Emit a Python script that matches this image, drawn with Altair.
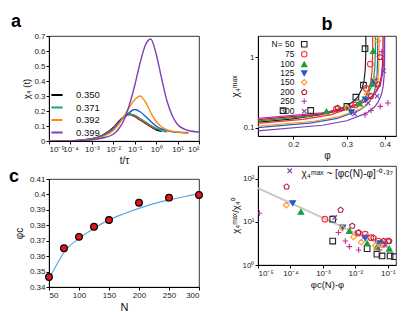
import altair as alt
import pandas as pd

FONT = "Liberation Sans"

# ---------------- Panel a : chi4(t) ----------------
t_grid = [1e-5, 1e-4, 1e-3, 0.00316, 0.01, 0.0178, 0.0316, 0.0562, 0.1, 0.178,
          0.316, 0.562, 1.0, 1.78, 3.16, 5.62, 10.0, 31.6, 100.0]
chi_350 = [0, 0.001, 0.015, 0.04, 0.09, 0.13, 0.163, 0.18, 0.165, 0.14, 0.118, 0.095, 0.075, 0.065]
chi_361 = [0, 0.001, 0.014, 0.038, 0.086, 0.125, 0.158, 0.175, 0.162, 0.14, 0.12, 0.097, 0.078]
chi_371 = [0, 0.001, 0.013, 0.035, 0.082, 0.12, 0.155, 0.178, 0.172, 0.15, 0.128, 0.105, 0.085, 0.07, 0.06]
chi_385 = [0, 0.001, 0.012, 0.032, 0.078, 0.12, 0.16, 0.19, 0.21, 0.195, 0.165, 0.13, 0.1, 0.08, 0.07, 0.062, 0.058, 0.055]
chi_392 = [0, 0.001, 0.01, 0.028, 0.07, 0.11, 0.165, 0.225, 0.275, 0.30, 0.26, 0.19, 0.13, 0.095, 0.075, 0.065, 0.06, 0.05]
chi_399 = [0, 0.001, 0.008, 0.02, 0.045, 0.08, 0.14, 0.24, 0.37, 0.52, 0.64, 0.68, 0.58, 0.42, 0.27, 0.17, 0.11, 0.07, 0.06]
a_names = ["0.350", "0.361", "0.371", "0.385", "0.392", "0.399"]
a_legend = ["0.350", "0.371", "0.392", "0.399"]
a_colors = ["#000000", "#e0302a", "#1fa27a", "#1f5bbf", "#ff8c1a", "#7e3fb8"]
a_series = [chi_350, chi_361, chi_371, chi_385, chi_392, chi_399]
a_xticks = [1e-5, 1e-4, 1e-3, 1e-2, 1e-1, 1.0, 10.0, 100.0]
a_yticks = [0, 0.1, 0.2, 0.3, 0.4, 0.5, 0.6, 0.7]

# ---------------- Panel b : chi4max vs phi ----------------
N_names = ["N= 50", "75", "100", "125", "150", "200", "250", "300"]
N_colors = ["#222222", "#ff2d2d", "#1f9e3a", "#1f5fc4", "#ff9a2e", "#b3203c", "#c42f9e", "#7a3fb4"]
N_fills = ["transparent", "transparent", "#1f9e3a", "#1f5fc4", "transparent", "transparent", "transparent", "transparent"]
PENT = "M0,-1L0.951,-0.309L0.588,0.809L-0.588,0.809L-0.951,-0.309Z"
PLUS = "M-1,0L1,0M0,-1L0,1"
XS = "M-0.8,-0.8L0.8,0.8M-0.8,0.8L0.8,-0.8"
N_shapes = ["square", "circle", "triangle-up", "triangle-down", "diamond", PENT, PLUS, XS]
fit_names = ["fit 50", "fit 75", "fit 100", "fit 125", "fit 150", "fit 200", "fit 250", "fit 300"]

# fitted curves (phi, chi) per N
bl_phi = {
    "N= 50": [0.153, 0.1965, 0.2465, 0.2965, 0.3165, 0.3265, 0.3365, 0.3415, 0.3445, 0.3460, 0.34647],
    "75":    [0.153, 0.215, 0.265, 0.315, 0.335, 0.345, 0.355, 0.360, 0.363, 0.3645, 0.36497],
    "100":   [0.153, 0.2225, 0.2725, 0.3225, 0.3425, 0.3525, 0.3625, 0.3675, 0.3705, 0.3720, 0.37247],
    "125":   [0.153, 0.229, 0.279, 0.329, 0.349, 0.359, 0.369, 0.374, 0.377, 0.3785, 0.37897],
    "150":   [0.153, 0.233, 0.283, 0.333, 0.353, 0.363, 0.373, 0.378, 0.381, 0.3825, 0.38297],
    "200":   [0.153, 0.2445, 0.2945, 0.3445, 0.3645, 0.3745, 0.3845, 0.3895, 0.3925, 0.3940, 0.39447],
    "250":   [0.153, 0.248, 0.298, 0.348, 0.368, 0.378, 0.388, 0.393, 0.396, 0.3975, 0.39797],
    "300":   [0.153, 0.2495, 0.2995, 0.3495, 0.3695, 0.3795, 0.3895, 0.3945, 0.3975, 0.3990, 0.39947],
}
bl_chi = {
    "N= 50": [0.120, 0.132, 0.153, 0.198, 0.239, 0.278, 0.360, 0.464, 0.652, 1.09, 3.08],
    "75":    [0.115, 0.131, 0.152, 0.196, 0.237, 0.275, 0.356, 0.460, 0.646, 1.08, 3.05],
    "100":   [0.125, 0.144, 0.167, 0.216, 0.261, 0.303, 0.392, 0.506, 0.711, 1.18, 3.36],
    "125":   [0.100, 0.117, 0.135, 0.175, 0.211, 0.245, 0.317, 0.410, 0.575, 0.958, 2.72],
    "150":   [0.105, 0.123, 0.143, 0.185, 0.223, 0.259, 0.336, 0.433, 0.608, 1.01, 2.87],
    "200":   [0.130, 0.155, 0.180, 0.233, 0.281, 0.326, 0.422, 0.545, 0.766, 1.27, 3.62],
    "250":   [0.135, 0.162, 0.188, 0.243, 0.294, 0.341, 0.441, 0.569, 0.800, 1.33, 3.78],
    "300":   [0.090, 0.108, 0.125, 0.162, 0.196, 0.228, 0.295, 0.381, 0.534, 0.890, 2.52],
}
# data points per N
bp_phi = {
    "N= 50": [0.185, 0.228, 0.300, 0.321, 0.340, 0.344],
    "75":    [0.277, 0.320, 0.347, 0.358],
    "100":   [0.257, 0.330, 0.363, 0.366],
    "125":   [0.310, 0.345, 0.368],
    "150":   [0.300, 0.350, 0.374, 0.379],
    "200":   [0.280, 0.360, 0.380, 0.385],
    "250":   [0.344, 0.360, 0.386, 0.409, 0.391],
    "300":   [0.318, 0.352, 0.377, 0.396],
}
bp_chi = {
    "N= 50": [0.174, 0.175, 0.20, 0.27, 0.40, 1.32],
    "75":    [0.184, 0.21, 0.36, 0.80],
    "100":   [0.17, 0.22, 0.42, 1.22],
    "125":   [0.165, 0.25, 0.45],
    "150":   [0.19, 0.30, 0.49, 1.70],
    "200":   [0.19, 0.28, 0.41, 1.0],
    "250":   [0.152, 0.175, 0.20, 0.224, 1.2],
    "300":   [0.157, 0.224, 0.28, 0.64],
}

# ---------------- Panel c : phi_c(N) ----------------
c_N = [50, 75, 100, 125, 150, 200, 250, 300]
c_phi = [0.3465, 0.3651, 0.3725, 0.379, 0.3834, 0.3946, 0.3979, 0.3996]
c_fitN = [50, 60, 75, 100, 125, 150, 175, 200, 225, 250, 275, 300]
c_fit = [0.3455, 0.3525, 0.3625, 0.3715, 0.378, 0.3835, 0.3875, 0.391, 0.394, 0.3965, 0.3985, 0.4005]

# ---------------- Panel d : scaling ----------------
dp_x = {
    "N= 50": [2e-3, 2e-3, 0.023, 0.046, 0.066, 0.117, 0.16],
    "75":    [1.15e-3, 0.012, 0.02, 0.03, 0.051, 0.07, 0.1],
    "100":   [2.1e-4, 6.5e-3, 0.023, 0.046, 0.11],
    "125":   [1.17e-4, 4.1e-3, 0.02, 0.057],
    "150":   [7.4e-5, 3.9e-3, 8.7e-3, 0.015, 0.041, 0.066],
    "200":   [7.6e-5, 3.5e-3, 8e-3, 0.0126, 0.036, 0.074, 0.11],
    "250":   [1.1e-5, 3e-3, 4.9e-3, 6.5e-3, 0.0126, 0.055],
    "300":   [9.5e-5, 2.3e-3, 0.019, 0.083],
}
dp_y = {
    "N= 50": [11.6, 3.6, 2.4, 1.78, 1.62, 1.62, 1.56],
    "75":    [11.6, 5.5, 5.2, 4.3, 3.6, 3.0, 3.6],
    "100":   [17.2, 6.2, 3.2, 2.67, 2.4],
    "125":   [27.4, 7.4, 4.2, 3.2],
    "150":   [24.6, 7.2, 4.5, 3.4, 2.8, 2.9],
    "200":   [66, 19, 8.1, 5.7, 4.3, 3.6, 3.6],
    "250":   [16, 5.7, 3.6, 2.67, 2.24, 2.24],
    "300":   [155, 12.7, 4.7, 3.0],
}
d_fit_x = [1e-5, 0.13]
d_fit_y = [61, 2.3]
d_note = "χ₄ᵐᵃˣ ~ [φc(N)-φ]⁻⁰·³⁷"


def sup_expr():
    e = "toString(round(log(datum.value)/LN10))"
    for a_, b_ in [("-", "⁻"), ("0", "⁰"), ("1", "¹"), ("2", "²"), ("3", "³"), ("4", "⁴"), ("5", "⁵")]:
        e = f"replace({e}, '{a_}', '{b_}')"
    return "'10' + " + e


SUP = sup_expr()

# ---------- build tables ----------
a_rows = []
for name, vals in zip(a_names, a_series):
    for t, v in zip(t_grid, vals):
        a_rows.append({"t": t, "chi": v, "phi": name})
a_df = pd.DataFrame(a_rows)

bl_rows, bp_rows, dp_rows = [], [], []
for n, fn in zip(N_names, fit_names):
    for p, c in zip(bl_phi[n], bl_chi[n]):
        bl_rows.append({"curve": fn, "phi": p, "chi": c})
    for p, c in zip(bp_phi[n], bp_chi[n]):
        bp_rows.append({"N": n, "phi": p, "chi": c})
    for p, c in zip(dp_x[n], dp_y[n]):
        dp_rows.append({"N": n, "dphi": p, "ratio": c})
bl_df = pd.DataFrame(bl_rows)
bp_df = pd.DataFrame(bp_rows)
dp_df = pd.DataFrame(dp_rows)
c_df = pd.DataFrame({"N": c_N, "phic": c_phi})
cfit_df = pd.DataFrame({"N": c_fitN, "phic": c_fit})
dfit_df = pd.DataFrame({"dphi": d_fit_x, "ratio": d_fit_y})
dnote_df = pd.DataFrame({"dphi": [2.2e-4], "ratio": [130], "s": [d_note]})

# ---------- panel a ----------
panel_a = alt.Chart(a_df).mark_line(strokeWidth=1.4, interpolate="monotone", clip=True).encode(
    x=alt.X("t:Q", scale=alt.Scale(type="log", domain=[1e-5, 100], nice=False),
            axis=alt.Axis(values=a_xticks, labelExpr=SUP, title="t/τ", titleFontSize=10, labelOverlap=False)),
    y=alt.Y("chi:Q", scale=alt.Scale(domain=[0, 0.7], nice=False),
            axis=alt.Axis(values=a_yticks, format="~g", title="χ₄ (t)", titleFontSize=9.5)),
    color=alt.Color("phi:N", scale=alt.Scale(domain=a_names, range=a_colors),
                    legend=alt.Legend(orient="none", legendX=3, legendY=54, title=None, values=a_legend,
                                      symbolType="M-1.4,0L1.4,0", symbolSize=64, symbolStrokeWidth=2,
                                      labelOffset=14, labelFontSize=9.5, rowPadding=2.5, padding=0)),
).properties(width=150, height=105,
             title=alt.TitleParams("a", anchor="start", frame="group", dx=-38, offset=-13, baseline="alphabetic"))

# ---------- panel b ----------
LEG_B = alt.Legend(orient="none", legendX=42, legendY=4, title=None, labelAlign="right",
                   labelOffset={"expr": "-14"},
                   labelFontSize=8.5, rowPadding={"expr": "-3.3"}, symbolSize=30, symbolStrokeWidth=1.1, padding=0)
bx = alt.X("phi:Q", scale=alt.Scale(type="log", domain=[0.153, 0.435], nice=False),
           axis=alt.Axis(values=[0.2, 0.3, 0.4], format="~g", title="φ", titleFontSize=10))
by = alt.Y("chi:Q", scale=alt.Scale(type="log", domain=[0.076, 2.0], nice=False),
           axis=alt.Axis(values=[0.1, 1], format="~g", title="χ₄ᵐᵃˣ", titleFontSize=10))
b_lines = alt.Chart(bl_df).mark_line(strokeWidth=1.2, clip=True).encode(
    x=bx, y=by,
    stroke=alt.Stroke("curve:N", scale=alt.Scale(domain=fit_names, range=N_colors), legend=None),
)
b_pts = alt.Chart(bp_df).mark_point(size=32, strokeWidth=1.1, filled=False, opacity=1, clip=True).encode(
    x=bx, y=by,
    color=alt.Color("N:N", scale=alt.Scale(domain=N_names, range=N_colors), legend=LEG_B),
    shape=alt.Shape("N:N", scale=alt.Scale(domain=N_names, range=N_shapes), legend=LEG_B),
    fill=alt.Fill("N:N", scale=alt.Scale(domain=N_names, range=N_fills), legend=LEG_B),
)
panel_b = alt.layer(b_lines, b_pts).properties(
    width=138, height=100,
    title=alt.TitleParams("b", anchor="middle", frame="group", offset=-12, baseline="alphabetic"))

# ---------- panel c ----------
cx = alt.X("N:Q", scale=alt.Scale(domain=[50, 300], nice=False),
           axis=alt.Axis(values=[50, 100, 150, 200, 250, 300], title="N", titleFontSize=11))
cy = alt.Y("phic:Q", scale=alt.Scale(domain=[0.34, 0.41], nice=False),
           axis=alt.Axis(values=[0.34, 0.35, 0.36, 0.37, 0.38, 0.39, 0.40, 0.41], format=".2~f",
                         title="φc", titleFontSize=10, titlePadding=5))
c_line = alt.Chart(cfit_df).mark_line(color="#5aa9e6", strokeWidth=1.2, interpolate="monotone").encode(x=cx, y=cy)
c_pts = alt.Chart(c_df).mark_point(filled=True, size=45, fill="#e8141c", stroke="black",
                                   strokeWidth=1.2, opacity=1).encode(x=cx, y=cy)
panel_c = alt.layer(c_line, c_pts).properties(
    width=150, height=108,
    title=alt.TitleParams("c", anchor="start", frame="group", dx=-40, offset=-25, baseline="alphabetic"))

# ---------- panel d ----------
dx_ = alt.X("dphi:Q", scale=alt.Scale(type="log", domain=[1e-5, 0.178], nice=False),
            axis=alt.Axis(values=[1e-5, 1e-4, 1e-3, 1e-2, 1e-1], labelExpr=SUP, title="φc(N)-φ",
                          titleFontSize=9.5, labelOverlap=False))
dy_ = alt.Y("ratio:Q", scale=alt.Scale(type="log", domain=[1, 200], nice=False),
            axis=alt.Axis(values=[1, 10, 100], labelExpr=SUP, title="χ₄ᵐᵃˣ/χ₄⁰", titleFontSize=9.5))
d_line = alt.Chart(dfit_df).mark_line(color="#c8c8c8", strokeWidth=2).encode(x=dx_, y=dy_)
d_pts = alt.Chart(dp_df).mark_point(size=32, strokeWidth=1.1, filled=False, opacity=1, clip=True).encode(
    x=dx_, y=dy_,
    color=alt.Color("N:N", scale=alt.Scale(domain=N_names, range=N_colors), legend=None),
    shape=alt.Shape("N:N", scale=alt.Scale(domain=N_names, range=N_shapes), legend=None),
    fill=alt.Fill("N:N", scale=alt.Scale(domain=N_names, range=N_fills), legend=None),
)
d_text = alt.Chart(dnote_df).mark_text(align="left", baseline="middle", fontSize=10, font=FONT, color="#111").encode(
    x=dx_, y=dy_, text="s:N")
panel_d = alt.layer(d_line, d_pts, d_text).properties(width=138, height=99)

RES = dict(x="independent", y="independent", color="independent", shape="independent",
           fill="independent", stroke="independent")
LRES = dict(color="independent", shape="independent", fill="independent", stroke="independent")

col1 = alt.vconcat(panel_a, panel_c, spacing=38, bounds="flush").resolve_scale(**RES).resolve_legend(**LRES)
col2 = alt.vconcat(panel_b, panel_d, spacing=30, bounds="flush").resolve_scale(**RES).resolve_legend(**LRES)
chart = alt.hconcat(col1, col2, spacing=23).resolve_scale(**RES).resolve_legend(**LRES)

chart = chart.properties(padding={"left": 0, "top": 4, "right": 2, "bottom": 2}, background="white").configure_view(
    stroke="black", strokeWidth=0.8
).configure_axis(
    grid=False, labelFont=FONT, titleFont=FONT, labelFontSize=8, labelColor="#222", titleColor="#111",
    tickSize=3, tickColor="black", domainColor="black", titleFontWeight="normal", labelPadding=1,
    titlePadding=2
).configure_title(font=FONT, fontSize=18, fontWeight="bold", color="black").configure_legend(
    labelFont=FONT, labelColor="#111"
)

chart.save("out.html", embed_options={"renderer": "svg", "actions": False})
